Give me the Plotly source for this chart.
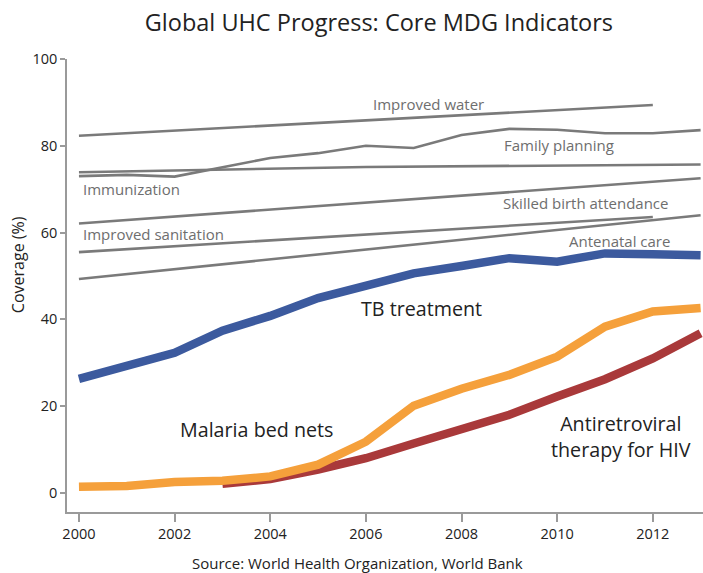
import plotly.graph_objects as go

years = list(range(2000, 2014))

# Thin gray indicator lines
water_years = [2000, 2006, 2012]
water_vals = [82.3, 85.8, 89.4]

fp_years = years
fp_vals = [73.0, 73.3, 72.9, 75.0, 77.2, 78.3, 80.0, 79.5, 82.5, 83.9, 83.7, 82.9, 82.9, 83.6]

immun_years = [2000, 2006, 2013]
immun_vals = [73.9, 75.1, 75.7]

sba_years = [2000, 2013]
sba_vals = [62.1, 72.5]

sanit_years = [2000, 2012]
sanit_vals = [55.5, 63.6]

anc_years = [2000, 2013]
anc_vals = [49.3, 64.0]

# Thick highlighted lines
tb_vals = [26.3, 29.3, 32.3, 37.4, 40.8, 44.9, 47.5, 50.6, 52.3, 54.1, 53.3, 55.2, 55.0, 54.8]
nets_vals = [1.4, 1.6, 2.5, 2.8, 3.8, 6.5, 11.8, 20.1, 24.0, 27.2, 31.4, 38.3, 41.8, 42.6]
art_years = list(range(2003, 2014))
art_vals = [2.1, 3.2, 5.4, 8.0, 11.4, 14.9, 18.0, 22.2, 26.2, 31.0, 36.8]

x_ticks = [2000, 2002, 2004, 2006, 2008, 2010, 2012]
y_ticks = [0, 20, 40, 60, 80, 100]

# label text, x (year), y (value)
gray_labels = [
    ("Improved water", 2006.1, 89.6),
    ("Family planning", 2008.85, 80.2),
    ("Immunization", 2000.05, 70.0),
    ("Skilled birth attendance", 2008.83, 66.8),
    ("Improved sanitation", 2000.05, 59.7),
    ("Antenatal care", 2010.2, 58.1),
]

FONT = "Open Sans"
GRAY = "#7a7a7a"

fig = go.Figure()

for xs, ys in [(water_years, water_vals), (fp_years, fp_vals), (immun_years, immun_vals),
               (sba_years, sba_vals), (sanit_years, sanit_vals), (anc_years, anc_vals)]:
    fig.add_trace(go.Scatter(x=xs, y=ys, mode="lines",
                             line=dict(color=GRAY, width=2.6), hoverinfo="skip"))

fig.add_trace(go.Scatter(x=art_years, y=art_vals, mode="lines",
                         line=dict(color="#a9393a", width=8.5)))
fig.add_trace(go.Scatter(x=years, y=nets_vals, mode="lines",
                         line=dict(color="#f5a03b", width=8.5)))
fig.add_trace(go.Scatter(x=years, y=tb_vals, mode="lines",
                         line=dict(color="#3c5a9e", width=8.5)))

annotations = []
for text, x, y in gray_labels:
    annotations.append(dict(x=x, y=y, xref="x", yref="y", text=text, showarrow=False,
                            xanchor="left", yanchor="middle",
                            font=dict(family=FONT, size=15, color="#6e6e6e")))

annotations.append(dict(x=2005.85, y=42.4, xref="x", yref="y", text="TB treatment",
                        showarrow=False, xanchor="left", yanchor="middle",
                        font=dict(family=FONT, size=19.7, color="#222")))
annotations.append(dict(x=2002.08, y=14.7, xref="x", yref="y", text="Malaria bed nets",
                        showarrow=False, xanchor="left", yanchor="middle",
                        font=dict(family=FONT, size=19.7, color="#222")))
annotations.append(dict(x=2011.33, y=12.9, xref="x", yref="y",
                        text="Antiretroviral<br>therapy for HIV",
                        showarrow=False, xanchor="center", yanchor="middle", align="center",
                        font=dict(family=FONT, size=19.7, color="#222")))
annotations.append(dict(x=-0.077, y=0.545, xref="paper", yref="paper", text="Coverage (%)",
                        showarrow=False, textangle=-90, xanchor="center", yanchor="middle",
                        font=dict(family=FONT, size=16, color="#222")))
annotations.append(dict(x=0.4575, y=-0.113, xref="paper", yref="paper",
                        text="Source: World Health Organization, World Bank",
                        showarrow=False, xanchor="center", yanchor="middle",
                        font=dict(family=FONT, size=15, color="#222")))

fig.update_layout(
    width=703, height=573,
    margin=dict(l=67, r=0, t=59, b=61),
    paper_bgcolor="white", plot_bgcolor="white",
    showlegend=False,
    title=dict(text="Global UHC Progress: Core MDG Indicators", x=0.539, xanchor="center",
               y=1 - 23 / 573, yanchor="middle", yref="container",
               font=dict(family=FONT, size=23.5, color="#222")),
    xaxis=dict(range=[1999.75, 2013.05], tickvals=x_ticks, showgrid=False, zeroline=False,
               showline=True, linecolor="#9a9a9a", linewidth=1.5,
               ticks="outside", ticklen=8, tickcolor="#9a9a9a", tickwidth=1.5,
               tickfont=dict(family=FONT, size=14.5, color="#222")),
    yaxis=dict(range=[-4.4, 100], tickvals=y_ticks, showgrid=False, zeroline=False,
               showline=True, linecolor="#9a9a9a", linewidth=1.5,
               ticks="outside", ticklen=5, tickcolor="#9a9a9a", tickwidth=1.5,
               tickfont=dict(family=FONT, size=14.5, color="#222")),
    annotations=annotations,
)

fig.write_html("out.html", config={"displayModeBar": False},
               post_script="document.body.style.margin='0';")
